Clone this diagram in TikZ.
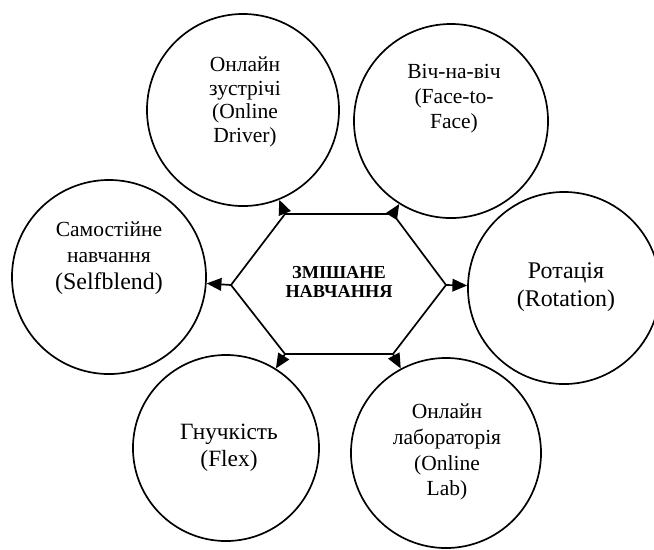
\documentclass[tikz,border=0pt]{standalone}
\usepackage{fontspec}
\setmainfont{Liberation Serif}
\usepackage{tikz}
\usetikzlibrary{arrows.meta}

\begin{document}
\begin{tikzpicture}[x=0.025cm, y=-0.025cm, line width=1.2pt, >={Triangle[length=10.5pt,width=9pt]}]
    \useasboundingbox (0,0) rectangle (654,549);

    % circles
    \node[draw, circle, inner sep=0pt, minimum size=4.8cm ] (drv) at (243,110) {};
    \node[draw, circle, inner sep=0pt, minimum size=4.85cm] (ftf) at (451,121) {};
    \node[draw, circle, inner sep=0pt, minimum size=4.85cm] (slf) at (109,277) {};
    \node[draw, circle, inner sep=0pt, minimum size=4.8cm ] (rot) at (564,288) {};
    \node[draw, circle, inner sep=0pt, minimum size=4.65cm] (flx) at (226,448) {};
    \node[draw, circle, inner sep=0pt, minimum size=4.75cm] (lab) at (446,453) {};

    % texts
    \node[align=center, font=\fontsize{15.3}{16.7}\selectfont] (drvtxt) at (245,102) {Онлайн\\зустрічі\\(Online\\Driver)};
    \node[align=center, font=\fontsize{15.3}{17.7}\selectfont] (ftftxt) at (454,99)  {Віч-на-віч\\(Face-to-\\Face)};
    \node[align=center, font=\fontsize{15.3}{19}\selectfont  ] (slftxt) at (109,258) {Самостійне\\навчання\\{\fontsize{17}{20}\selectfont(Selfblend)}};
    \node[align=center, font=\fontsize{17}{20}\selectfont    ] (rottxt) at (566,287) {Ротація\\(Rotation)};
    \node[align=center, font=\fontsize{16.6}{19}\selectfont  ] (flxtxt) at (229,448) {Гнучкість\\(Flex)};
    \node[align=center, font=\fontsize{15.3}{18.4}\selectfont] (labtxt) at (447,452) {Онлайн\\лабораторія\\(Online\\Lab)};

    % hexagon
    \coordinate (hl)  at (231,285);
    \coordinate (htl) at (285,214);
    \coordinate (htr) at (393,214);
    \coordinate (hr)  at (446,285);
    \coordinate (hbr) at (393,354);
    \coordinate (hbl) at (285,354);
    \draw (hl) -- (htl) -- (htr) -- (hr) -- (hbr) -- (hbl) -- cycle;
    \node[align=center, font=\fontsize{13}{13.5}\selectfont\bfseries] (hex) at (339,282) {ЗМІШАНЕ\\НАВЧАННЯ};

    \draw[->] (htl) -- (drv);
    \draw[->] (htr) -- (ftf);
    \draw[->] (hl)  -- (slf);
    \draw[->] (hr)  -- (rot);
    \draw[->] (hbl) -- (flx);
    \draw[->] (hbr) -- (lab);
  \end{tikzpicture}
\end{document}
